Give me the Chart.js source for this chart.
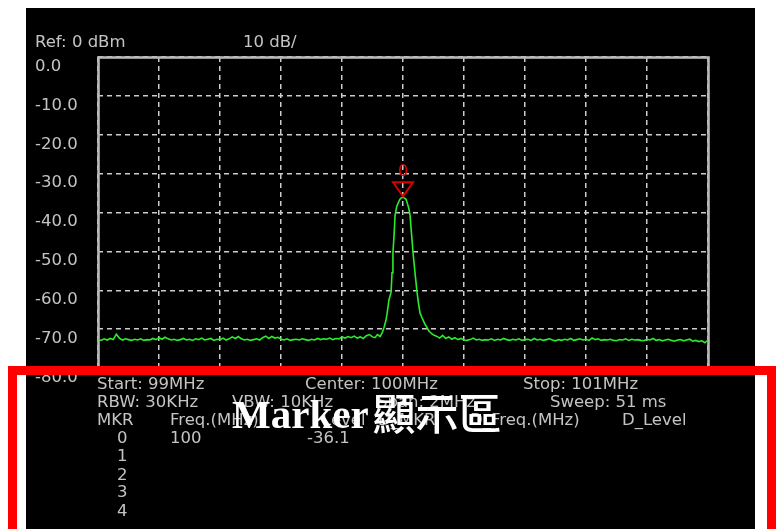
<!DOCTYPE html>
<html>
<head>
<meta charset="utf-8">
<script src="https://cdn.jsdelivr.net/npm/chart.js@4/dist/chart.umd.min.js"></script>
<style>
html,body{margin:0;padding:0;background:#fff;width:781px;height:529px;overflow:hidden;position:relative;}
#screen{position:absolute;left:26px;top:8px;width:729px;height:521px;background:#000;}
#c{position:absolute;left:0;top:0;}
.t{position:absolute;font-family:"DejaVu Sans";font-size:16.5px;line-height:16px;color:#c4c4c4;white-space:nowrap;}
#frame{position:absolute;left:8px;top:366px;width:750px;height:200px;border:9px solid #ff0000;}
#overlay{position:absolute;left:232px;top:389px;line-height:41px;color:#fff;white-space:nowrap;}
#overlay .en{font-family:"Liberation Serif";font-weight:bold;font-size:41px;}
#overlay .zh{font-family:"Noto Sans CJK TC";font-weight:500;font-size:43px;position:relative;top:2px;margin-left:4px;}
</style>
</head>
<body>
<div id="screen"></div>
<canvas id="c" width="781" height="529"></canvas>
<div class="t" style="left:35px;top:34px;">Ref: 0 dBm</div>
<div class="t" style="left:243px;top:34px;">10 dB/</div>
<div id="info"></div>
<div id="frame"></div>
<div id="overlay"><span class="en">Marker</span><span class="zh">顯示區</span></div>
<script>
// ---- axis values ----
const xGridFreqs = [99.0, 99.2, 99.4, 99.6, 99.8, 100.0, 100.2, 100.4, 100.6, 100.8, 101.0];
const yTickValues = [0, -10, -20, -30, -40, -50, -60, -70, -80];
const yTickLabels = ['0.0', '-10.0', '-20.0', '-30.0', '-40.0', '-50.0', '-60.0', '-70.0', '-80.0'];

// ---- trace: noise floor left of the carrier (99.00 .. 99.90 MHz, 0.01 MHz step) ----
const leftStartMHz = 99.00;
const leftLevels = [
-72.6,-72.9,-72.5,-72.8,-72.4,-72.7,-71.3,-72.3,-72.8,-72.5,
-72.7,-72.9,-72.6,-72.8,-72.5,-72.9,-72.7,-72.8,-72.4,-72.7,
-72.2,-72.6,-72.1,-72.5,-72.8,-72.6,-72.9,-72.7,-72.4,-72.8,
-72.6,-72.9,-72.5,-72.7,-72.3,-72.8,-72.6,-72.4,-72.9,-72.6,
-72.7,-72.3,-72.8,-72.5,-72.0,-72.4,-71.9,-72.5,-72.8,-72.6,
-72.9,-72.7,-72.5,-72.8,-72.2,-71.8,-72.4,-71.9,-72.3,-72.1,
-72.6,-72.8,-72.5,-72.9,-72.7,-72.6,-72.8,-72.5,-72.7,-72.9,
-72.6,-72.8,-72.4,-72.7,-72.5,-72.6,-72.3,-72.7,-72.4,-72.5,
-72.0,-72.3,-71.9,-72.2,-71.8,-72.3,-72.0,-72.4,-71.7,-71.4,
-72.0];
// ---- trace: carrier region ----
const peakFreqs = [99.908,99.916,99.925,99.932,99.938,99.944,99.948,99.954,99.961,99.964,
99.967,99.971,99.974,99.979,99.984,99.990,99.995,100.000,100.005,100.010,
100.016,100.020,100.023,100.028,100.033,100.040,100.046,100.051,100.056,100.062,
100.069,100.074,100.079,100.084,100.089,100.095,100.102];
const peakLevels = [-72.2,-71.4,-71.9,-70.9,-69.5,-67.8,-65.9,-62.5,-60.5,-55.5,
-50.4,-45.5,-40.7,-38.6,-37.6,-36.6,-36.2,-36.1,-36.3,-36.6,
-38.1,-39.3,-40.7,-45.5,-50.4,-56.0,-60.5,-63.5,-65.9,-67.0,
-68.2,-69.0,-69.6,-70.4,-70.8,-71.2,-71.6];
// ---- trace: noise floor right of the carrier (100.11 .. 101.00 MHz, 0.01 MHz step) ----
const rightStartMHz = 100.11;
const rightLevels = [
-71.8,-72.3,-71.6,-72.4,-72.0,-72.6,-72.2,-72.7,-72.4,-72.8,
-72.9,-72.7,-72.3,-72.8,-72.6,-72.9,-72.7,-72.8,-72.5,-72.9,
-72.6,-72.8,-72.4,-72.7,-72.9,-72.6,-72.8,-72.5,-72.9,-72.7,
-72.6,-72.9,-72.4,-72.8,-72.6,-72.9,-72.7,-72.5,-72.8,-73.0,
-72.7,-72.9,-72.6,-72.8,-72.4,-72.9,-72.7,-72.5,-72.8,-72.6,
-72.9,-72.3,-72.7,-72.5,-72.9,-72.7,-72.8,-72.6,-72.9,-73.0,
-72.7,-72.8,-72.5,-72.9,-72.6,-72.8,-72.7,-72.9,-73.0,-72.6,
-72.8,-72.4,-72.9,-72.7,-73.0,-72.8,-72.6,-72.9,-73.1,-72.8,
-72.7,-73.0,-72.8,-72.6,-73.1,-72.9,-73.2,-73.0,-73.5,-72.8];
const sweepStepMHz = 0.01;

// ---- markers ----
const markerIds = ['0', '1', '2', '3', '4'];
const markerFreqs = ['100', '', '', '', ''];
const markerLevels = ['-36.1', '', '', '', ''];
const activeMarkerFreq = 100.0;
const activeMarkerLevel = -36.1;

// ---- info panel texts ----
const infoRow1 = [['Start: 99MHz', 97], ['Center: 100MHz', 305], ['Stop: 101MHz', 523]];
const infoRow2 = [['RBW: 30KHz', 97], ['VBW: 10KHz', 232], ['Span: 2MHz', 377], ['Sweep: 51 ms', 550]];
const infoRow3 = [['MKR', 97], ['Freq.(MHz)', 170], ['Level', 322], ['D_MKR', 378], ['D_Freq.(MHz)', 470], ['D_Level', 622]];

// build trace points
const tracePoints = [];
leftLevels.forEach((v, i) => tracePoints.push({x: +(leftStartMHz + i * sweepStepMHz).toFixed(3), y: v}));
peakLevels.forEach((v, i) => tracePoints.push({x: peakFreqs[i], y: v}));
rightLevels.forEach((v, i) => tracePoints.push({x: +(rightStartMHz + i * sweepStepMHz).toFixed(3), y: v}));

// build info text
const info = document.getElementById('info');
function addText(txt, left, cy) {
  const d = document.createElement('div');
  d.className = 't';
  d.textContent = txt;
  d.style.left = left + 'px';
  d.style.top = (cy - 8) + 'px';
  info.appendChild(d);
}
infoRow1.forEach(([t, x]) => addText(t, x, 383.5));
infoRow2.forEach(([t, x]) => addText(t, x, 401.5));
infoRow3.forEach(([t, x]) => addText(t, x, 420));
const markerRowY = [437.5, 456, 475, 491.5, 511];
markerIds.forEach((id, i) => {
  addText(id, 117, markerRowY[i]);
  if (markerFreqs[i]) addText(markerFreqs[i], 170, markerRowY[i]);
  if (markerLevels[i]) addText(markerLevels[i], 307, markerRowY[i]);
});

const framePlugin = {
  id: 'frame',
  beforeDatasetsDraw(chart) {
    const a = chart.chartArea, ctx = chart.ctx;
    ctx.save();
    ctx.strokeStyle = '#b8b8b8';
    ctx.lineWidth = 2.6;
    ctx.strokeRect(a.left + 0.5, a.top + 0.5, a.right - a.left, a.bottom - a.top);
    ctx.restore();
  }
};
const markerPlugin = {
  id: 'marker',
  afterDatasetsDraw(chart) {
    const ctx = chart.ctx;
    const x = chart.scales.x.getPixelForValue(activeMarkerFreq);
    const y = chart.scales.y.getPixelForValue(activeMarkerLevel);
    ctx.save();
    ctx.strokeStyle = '#d80000';
    ctx.lineWidth = 2;
    ctx.beginPath();
    ctx.moveTo(x - 10, y - 15);
    ctx.lineTo(x + 10, y - 15);
    ctx.lineTo(x, y - 1);
    ctx.closePath();
    ctx.stroke();
    ctx.fillStyle = '#e00000';
    ctx.font = '16px "DejaVu Sans"';
    ctx.textAlign = 'center';
    ctx.textBaseline = 'middle';
    ctx.fillText('0', x, y - 25);
    ctx.restore();
  }
};

const gridCommon = {color: '#cccccc', lineWidth: 1.5, drawTicks: false};
new Chart(document.getElementById('c'), {
  type: 'line',
  data: {datasets: [{data: tracePoints, borderColor: '#2bec2b', borderWidth: 1.6, pointRadius: 0, tension: 0, fill: false}]},
  options: {
    responsive: false,
    animation: false,
    events: [],
    layout: {padding: {left: 35, top: 57, right: 73, bottom: 161}},
    plugins: {legend: {display: false}, tooltip: {enabled: false}, title: {display: false}},
    scales: {
      x: {
        type: 'linear', min: 99, max: 101,
        afterBuildTicks(s) { s.ticks = xGridFreqs.map(v => ({value: v})); },
        ticks: {display: false},
        grid: gridCommon,
        border: {display: false, dash: [5, 4]},
        afterFit(s) { s.height = 0; }
      },
      y: {
        type: 'linear', min: -80, max: 0,
        afterBuildTicks(s) { s.ticks = yTickValues.slice().reverse().map(v => ({value: v})); },
        ticks: {
          callback: (v) => yTickLabels[yTickValues.indexOf(v)],
          color: '#c4c4c4',
          font: {family: 'DejaVu Sans', size: 16.5},
          crossAlign: 'far',
          labelOffset: 9.5,
          padding: 0
        },
        grid: gridCommon,
        border: {display: false, dash: [5, 4]},
        afterFit(s) { s.width = 63; }
      }
    }
  },
  plugins: [framePlugin, markerPlugin]
});
</script>
</body>
</html>
